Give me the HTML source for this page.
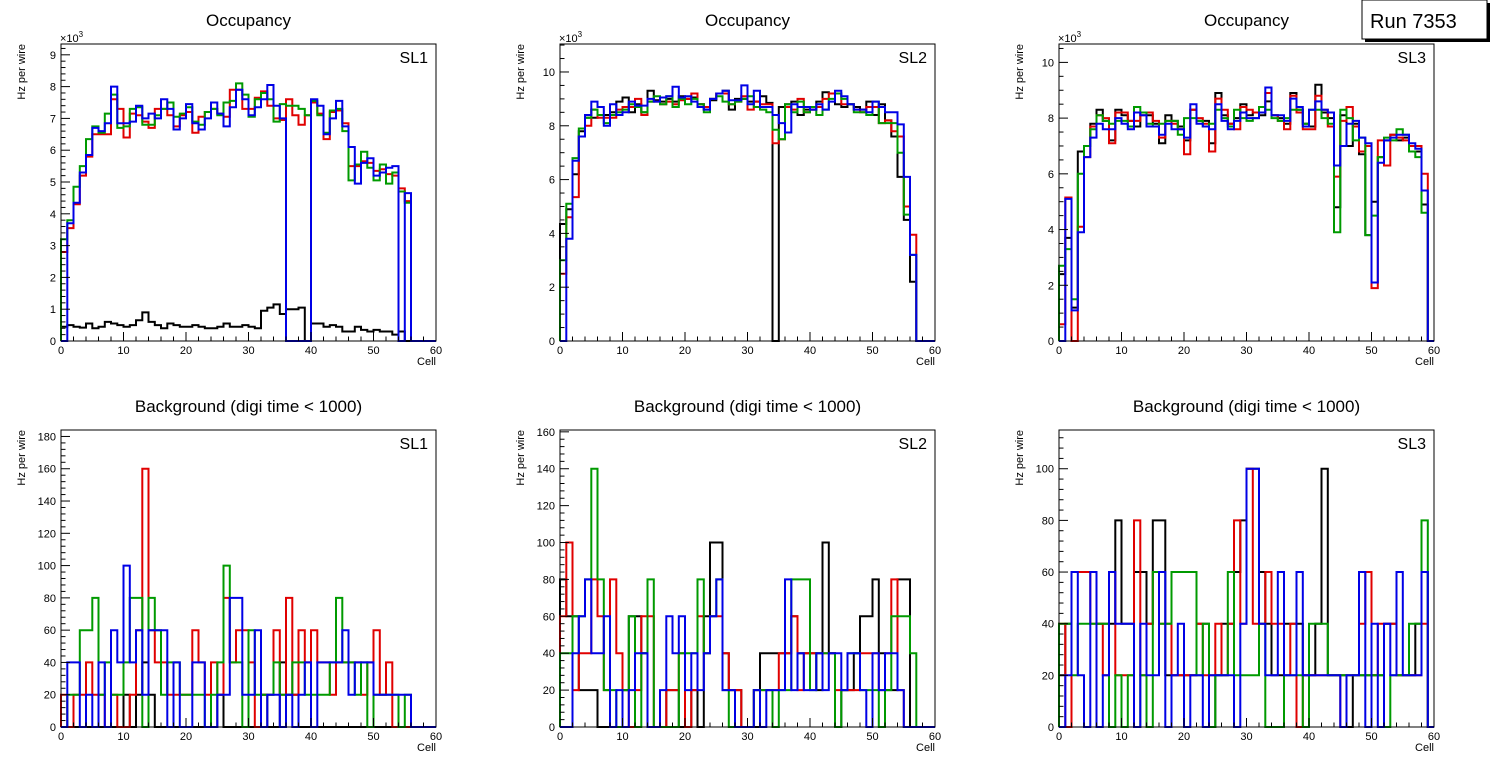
<!DOCTYPE html>
<html><head><meta charset="utf-8"><style>
html,body{margin:0;padding:0;background:#fff;width:1496px;height:772px;overflow:hidden}
svg{display:block;font-family:"Liberation Sans",sans-serif}
</style></head><body>
<svg id="c" width="1496" height="772" xmlns="http://www.w3.org/2000/svg">
<g>
<rect x="1365" y="3" width="125" height="39" fill="#000"/>
<rect x="1362" y="0" width="125" height="39" fill="#fff" stroke="#000" stroke-width="1"/>
<text x="1370" y="28" font-size="20">Run 7353</text>
</g>
</svg>
<script>
// ---- data (Hz per wire; top row in units of 10^3) ----
const cells = 60;
const occSL1Black=[0.45,0.5,0.45,0.42,0.55,0.4,0.45,0.6,0.55,0.5,0.45,0.5,0.65,0.9,0.6,0.5,0.4,0.55,0.5,0.45,0.45,0.5,0.45,0.4,0.4,0.45,0.55,0.45,0.45,0.5,0.45,0.4,0.95,1.05,1.15,0.85,1.0,1.0,1.05,0,0.55,0.55,0.45,0.5,0.45,0.3,0.3,0.45,0.35,0.3,0.35,0.3,0.3,0.2,0.3,0,0,0,0,0];
const occSL1Red=[2.8,3.55,4.3,5.2,5.8,6.5,6.5,6.5,7.6,7.3,6.4,7.15,7.1,6.9,6.7,7.3,7.3,7.1,6.75,7.1,7.2,6.55,7.05,7.2,7.3,7.15,7.05,7.9,7.9,7.3,7.3,7.65,7.85,7.4,7.0,6.95,7.6,7.1,6.8,7.1,7.5,7.15,6.35,7.2,7.25,6.85,5.5,5.5,5.65,5.6,5.35,5.4,5.25,5.2,4.8,4.4,0,0,0,0];
const occSL1Green=[3.2,3.8,4.85,5.5,6.35,6.75,6.55,7.15,7.75,6.7,6.75,7.3,7.35,6.8,6.8,7.1,7.3,7.5,7.05,7.15,7.35,6.9,6.8,7.2,7.3,7.1,7.5,7.55,8.1,7.75,7.05,7.6,7.8,7.6,6.9,7.45,7.4,7.4,7.3,7.1,7.55,7.1,6.55,7.25,7.3,6.6,5.05,5.55,5.95,5.45,5.05,5.55,4.95,5.3,4.7,4.35,0,0,0,0];
const occSL1Blue=[0,3.7,4.35,5.3,5.85,6.7,6.6,6.85,8.0,6.85,6.85,6.9,7.4,7.0,7.15,7.0,7.6,7.3,6.65,7.0,7.45,6.85,6.65,7.0,7.5,7.15,6.75,7.35,7.9,7.6,7.1,7.35,7.6,8.05,7.4,7.0,0,0,0,0,7.6,7.4,6.5,7.0,7.55,6.75,6.1,4.95,5.6,5.75,5.2,5.3,5.45,5.5,0,4.65,0,0,0,0];

const occSL2Black=[4.35,4.9,6.2,7.8,8.3,8.3,8.4,8.4,8.5,8.9,9.05,8.5,8.8,8.5,9.3,8.95,8.9,9.0,8.9,9.1,9.0,9.05,8.8,8.6,8.95,9.2,9.3,8.6,9.0,9.0,8.9,8.9,9.1,8.85,0,8.7,8.8,8.9,8.4,8.6,8.6,8.9,9.25,9.2,8.8,8.7,8.8,8.7,8.6,8.9,8.4,8.8,8.2,7.6,6.1,4.5,2.2,0,0,0];
const occSL2Red=[2.5,4.6,5.35,7.6,8.0,8.6,8.3,8.3,8.3,8.6,8.7,8.7,9.0,8.4,8.9,8.9,8.8,8.9,8.8,8.95,9.0,9.2,8.8,8.7,9.0,9.2,9.2,8.8,8.9,9.1,8.6,8.9,8.8,8.8,7.35,7.5,8.7,8.6,9.0,8.5,8.6,8.7,9.0,9.2,9.2,8.8,8.8,8.6,8.5,8.7,8.7,8.1,8.2,7.8,7.6,5.0,3.95,0,0,0];
const occSL2Green=[3.0,5.1,6.8,7.9,8.3,8.6,8.4,8.1,8.4,8.5,8.6,8.8,8.7,8.5,8.9,9.1,8.8,9.1,8.7,9.0,8.8,9.0,8.8,8.5,9.0,9.1,8.9,8.8,8.9,9.0,9.1,8.7,8.6,8.5,7.85,7.5,8.8,8.5,8.9,8.5,8.7,8.4,8.6,9.0,9.2,9.0,8.8,8.5,8.5,8.4,8.9,8.1,8.1,8.1,7.0,4.7,3.2,0,0,0];
const occSL2Blue=[0,3.8,6.7,7.6,8.4,8.9,8.7,8.0,8.8,8.4,8.5,8.9,8.75,8.75,9.0,8.9,9.05,9.1,9.45,9.05,9.1,8.9,8.7,8.6,9.0,9.2,9.3,8.95,8.95,9.5,8.8,9.3,8.7,8.7,8.4,8.1,7.75,8.8,8.7,8.7,8.6,8.8,8.6,8.9,9.3,9.1,8.8,8.6,8.6,8.5,8.9,8.7,8.5,8.5,8.05,6.1,3.2,0,0,0];

const occSL3Black=[2.4,3.7,1.2,6.8,7.0,7.8,8.3,7.9,7.2,8.3,8.1,7.9,7.7,8.2,8.1,7.8,7.1,8.1,7.9,7.7,7.2,8.3,7.9,7.9,7.1,8.9,8.1,7.8,8.0,8.5,8.1,8.2,8.1,8.6,8.1,8.0,7.8,8.9,8.3,7.8,7.7,9.2,8.2,8.0,4.8,8.1,7.0,7.8,6.7,3.8,5.0,6.6,7.2,7.4,7.2,7.3,6.8,6.8,4.9,0];
const occSL3Red=[0.6,5.15,0,4.1,6.6,7.7,8.1,8.0,7.1,8.2,8.2,7.9,7.9,8.1,8.2,7.9,7.3,7.9,7.8,7.6,6.7,8.3,8.0,7.8,6.8,8.7,8.3,7.8,7.6,8.4,8.3,8.2,8.2,8.9,8.1,7.9,7.6,8.8,8.2,7.6,7.6,8.8,8.3,7.7,5.9,7.9,8.4,7.7,6.8,7.0,1.9,7.2,6.3,7.4,7.3,7.2,7.0,7.0,6.0,0];
const occSL3Green=[2.7,3.3,1.5,6.0,7.0,7.6,8.1,7.9,7.8,7.9,7.9,7.7,8.4,8.2,7.8,7.7,7.8,7.9,7.9,7.4,8.0,8.0,7.9,7.7,7.8,8.3,8.0,7.7,8.3,8.0,7.9,8.0,8.4,8.3,8.0,7.9,8.0,8.3,8.3,7.8,8.3,8.3,8.0,7.8,3.9,8.3,8.0,7.2,7.3,3.8,4.5,6.6,7.3,7.2,7.6,7.4,6.8,6.6,4.6,0];
const occSL3Blue=[0,5.1,1.1,3.9,6.6,7.3,7.8,7.6,7.6,8.0,7.8,7.6,8.2,8.1,7.7,7.7,7.4,7.8,7.6,7.6,7.3,8.5,7.8,7.7,7.6,8.5,7.9,7.6,7.9,8.2,8.0,8.0,8.2,9.1,8.1,8.1,7.9,8.7,8.4,7.7,8.3,8.6,8.3,8.2,6.3,7.0,7.8,7.9,7.3,7.1,2.1,6.4,7.2,7.3,7.4,7.4,7.1,6.9,5.4,0];

const bkgSL1Black=[0,0,0,0,0,0,0,0,0,0,20,0,20,40,20,0,0,0,0,0,0,0,0,0,0,20,0,0,0,0,0,0,20,0,0,40,20,20,0,0,0,0,0,0,0,0,0,0,0,0,0,0,0,0,0,0,0,0,0,0];
const bkgSL1Red=[20,0,20,20,40,20,20,0,20,0,0,20,60,160,60,40,40,20,20,20,20,60,40,20,40,20,80,40,60,60,40,0,20,20,60,20,80,20,60,40,60,40,40,20,40,40,40,40,20,40,60,20,40,0,0,0,0,0,0,0];
const bkgSL1Green=[0,20,20,60,60,80,20,40,20,20,40,80,80,0,80,60,20,40,40,20,20,20,20,0,20,40,100,40,40,0,60,20,20,20,40,20,20,40,40,20,20,20,20,40,80,40,40,20,40,0,20,20,20,20,0,20,0,0,0,0];
const bkgSL1Blue=[0,40,40,0,20,0,40,0,60,40,100,40,60,20,60,60,60,0,40,0,0,40,40,0,0,20,20,80,80,20,20,60,0,20,20,0,20,0,20,40,0,40,40,40,40,60,20,40,40,40,20,20,20,20,20,20,0,0,0,0];

const bkgSL2Black=[80,60,60,20,20,20,0,0,0,0,20,60,60,40,0,0,0,20,20,0,0,20,0,60,100,100,40,20,20,0,0,0,40,40,40,40,40,60,40,40,40,20,100,40,0,20,20,40,60,60,80,40,20,20,80,80,0,0,0,0];
const bkgSL2Red=[60,100,20,40,40,80,60,20,80,40,20,0,20,60,60,0,0,20,20,40,0,20,60,40,60,60,40,20,20,0,0,20,20,20,20,40,40,60,20,40,40,40,40,40,20,20,20,20,40,40,40,20,40,80,20,0,0,0,0,0];
const bkgSL2Green=[40,40,60,60,80,140,80,20,20,0,20,60,0,40,80,0,0,0,0,40,40,40,80,40,60,80,20,0,0,0,0,20,20,20,0,20,20,80,80,80,20,40,40,40,0,20,40,40,20,20,20,0,20,60,60,60,40,0,0,0];
const bkgSL2Blue=[0,0,40,60,80,40,40,60,0,20,0,20,40,40,0,0,20,60,40,60,20,40,20,40,60,80,20,20,0,0,0,20,0,20,20,20,80,20,40,20,20,40,20,40,40,20,40,40,20,0,40,20,40,40,20,0,0,0,0,0];

const bkgSL3Black=[20,40,60,60,60,60,40,40,40,80,40,40,60,60,40,80,80,20,20,20,20,20,40,40,0,20,40,40,60,80,100,100,60,40,20,20,40,40,40,20,20,40,100,20,20,20,0,20,20,20,20,20,40,40,20,20,20,40,60,0];
const bkgSL3Red=[40,0,60,60,60,40,40,20,60,20,20,20,80,20,40,60,40,40,20,20,20,20,40,20,20,40,20,40,80,40,100,40,40,60,40,40,20,40,0,20,20,20,20,20,20,0,20,20,40,60,20,40,40,40,20,20,20,20,40,0];
const bkgSL3Green=[40,40,20,40,40,40,40,40,0,20,0,20,0,20,0,60,40,40,60,60,60,60,20,40,0,20,20,60,20,20,20,20,40,0,0,0,20,20,20,0,40,40,40,20,20,20,20,20,20,20,20,20,0,20,20,20,40,40,80,0];
const bkgSL3Blue=[0,20,60,20,0,60,0,20,60,40,40,40,0,40,20,20,60,0,20,40,0,20,20,0,20,20,20,20,0,40,100,100,40,20,20,60,20,20,60,20,20,20,20,20,20,0,20,20,60,0,40,0,40,20,60,20,20,20,60,0];

const xTickLabels=[0,10,20,30,40,50,60];
const occTicks1=[0,1,2,3,4,5,6,7,8,9];
const occTicks23=[0,2,4,6,8,10];
const bkgTicks1=[0,20,40,60,80,100,120,140,160,180];
const bkgTicks2=[0,20,40,60,80,100,120,140,160];
const bkgTicks3=[0,20,40,60,80,100];

const colors=['#000000','#e00000','#009a00','#0000e6'];
const panels=[
 {x0:61,y0:44,y1:341,ymax:9.34,ticks:occTicks1,minor:5,title:'Occupancy',sl:'SL1',exp:true,series:[occSL1Black,occSL1Red,occSL1Green,occSL1Blue],name:'occupancy-sl1'},
 {x0:560,y0:44,y1:341,ymax:11.04,ticks:occTicks23,minor:4,title:'Occupancy',sl:'SL2',exp:true,series:[occSL2Black,occSL2Red,occSL2Green,occSL2Blue],name:'occupancy-sl2'},
 {x0:1059,y0:44,y1:341,ymax:10.66,ticks:occTicks23,minor:4,title:'Occupancy',sl:'SL3',exp:true,series:[occSL3Black,occSL3Red,occSL3Green,occSL3Blue],name:'occupancy-sl3'},
 {x0:61,y0:430,y1:727,ymax:184,ticks:bkgTicks1,minor:5,title:'Background (digi time < 1000)',sl:'SL1',exp:false,series:[bkgSL1Black,bkgSL1Red,bkgSL1Green,bkgSL1Blue],name:'background-sl1'},
 {x0:560,y0:430,y1:727,ymax:161,ticks:bkgTicks2,minor:5,title:'Background (digi time < 1000)',sl:'SL2',exp:false,series:[bkgSL2Black,bkgSL2Red,bkgSL2Green,bkgSL2Blue],name:'background-sl2'},
 {x0:1059,y0:430,y1:727,ymax:115,ticks:bkgTicks3,minor:5,title:'Background (digi time < 1000)',sl:'SL3',exp:false,series:[bkgSL3Black,bkgSL3Red,bkgSL3Green,bkgSL3Blue],name:'background-sl3'}
];
const seriesNames=['layer1-black','layer2-red','layer3-green','layer4-blue'];
const NS='http://www.w3.org/2000/svg';
const svg=document.getElementById('c');
function mk(tag,attrs,parent){const e=document.createElementNS(NS,tag);for(const k in attrs)e.setAttribute(k,attrs[k]);parent.appendChild(e);return e;}
const W=375;
panels.forEach(p=>{
  const g=mk('g',{},svg);
  
  
  const xs=v=>p.x0+v/cells*W;
  const ys=v=>p.y1-Math.min(v,p.ymax)/p.ymax*(p.y1-p.y0);
  const t=mk('text',{x:p.x0+W/2,y:p.y0-(p.exp?18:18),'font-size':17,'text-anchor':'middle'},g);
  t.textContent=p.title;
  
  
  p.series.forEach((arr,si)=>{
    let d='M'+xs(0)+','+ys(0);
    for(let i=0;i<cells;i++){const v=arr[i]||0;d+=' V'+ys(v).toFixed(1)+' H'+xs(i+1).toFixed(1);}
    d+=' V'+ys(0);
    const path=mk('path',{d:d,fill:'none',stroke:colors[si],'stroke-width':2,'stroke-linejoin':'miter'},g);
    
    
  });
  const fr=mk('rect',{x:p.x0,y:p.y0,width:W,height:p.y1-p.y0,fill:'none',stroke:'#000','stroke-width':1},g);
  
  
  // x ticks
  for(let c=0;c<=60;c+=2){const maj=c%10===0;mk('line',{x1:xs(c),x2:xs(c),y1:p.y1,y2:p.y1-(maj?9:4.5),stroke:'#000','stroke-width':1},g);}
  xTickLabels.forEach(v=>{const tl=mk('text',{x:xs(v),y:p.y1+13,'font-size':11,'text-anchor':'middle'},g);tl.textContent=v;
    
    });
  // y ticks
  const step=p.ticks[1]-p.ticks[0];
  for(let v=0;v<=p.ymax+1e-9;v+=step/p.minor){const maj=Math.abs(v/step-Math.round(v/step))<1e-6;mk('line',{x1:p.x0,x2:p.x0+(maj?9:4.5),y1:ys(v),y2:ys(v),stroke:'#000','stroke-width':1},g);}
  p.ticks.forEach(v=>{const tl=mk('text',{x:p.x0-5,y:ys(v)+4,'font-size':11,'text-anchor':'end'},g);tl.textContent=v;
    
    });
  if(p.exp){const ex=mk('text',{x:p.x0-1,y:p.y0-2,'font-size':11},g);ex.innerHTML='×10<tspan dy="-5" font-size="8">3</tspan>';
    
    }
  const sl=mk('text',{x:p.x0+W-8,y:p.y0+19,'font-size':16,'text-anchor':'end'},g);sl.textContent=p.sl;
  
  
  const xt=mk('text',{x:p.x0+W,y:p.y1+24,'font-size':11,'text-anchor':'end'},g);xt.textContent='Cell';
  
  
  const yt=mk('text',{x:0,y:0,'font-size':11,'text-anchor':'end',transform:'translate('+(p.x0-36)+','+(p.y0)+') rotate(-90)'},g);yt.textContent='Hz per wire';
  
  
});
</script>
</body></html>
